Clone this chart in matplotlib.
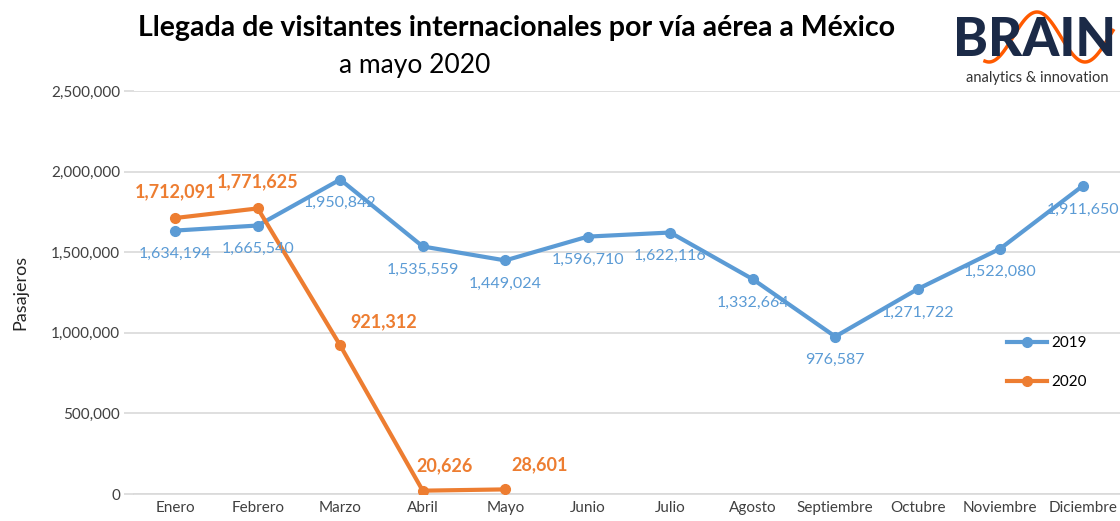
import matplotlib.pyplot as plt
import numpy as np

plt.rcParams['font.family'] = ['Lato', 'DejaVu Sans']

meses = ["Enero", "Febrero", "Marzo", "Abril", "Mayo", "Junio", "Julio",
         "Agosto", "Septiembre", "Octubre", "Noviembre", "Diciembre"]
v2019 = [1634194, 1665540, 1950842, 1535559, 1449024, 1596710, 1622116,
         1332664, 976587, 1271722, 1522080, 1911650]
v2020 = [1712091, 1771625, 921312, 20626, 28601]
yticks = [0, 500000, 1000000, 1500000, 2000000, 2500000]

azul = "#5B9BD5"
naranja = "#ED7D31"

fig = plt.figure(figsize=(11.2, 5.21), dpi=100)
ax = fig.add_axes([134 / 1120, 1 - 494 / 521, 990 / 1120, 403 / 521])

x = np.arange(len(meses))
ax.plot(x, v2019, color=azul, lw=3, marker="o", ms=7, label="2019", zorder=3)
ax.plot(x[:len(v2020)], v2020, color=naranja, lw=3, marker="o", ms=7, label="2020", zorder=4)

# etiquetas 2019 debajo
for i, v in enumerate(v2019):
    ax.annotate(f"{v:,}", (i, v), xytext=(0, -17), textcoords="offset points",
                ha="center", va="center", color=azul, fontsize=11.5, zorder=5)

# etiquetas 2020
offs = [(0, 19), (0, 19), (31, 17), (16, 18), (25, 18)]
for i, v in enumerate(v2020):
    ax.annotate(f"{v:,}", (i, v), xytext=offs[i], textcoords="offset points",
                ha="center", va="center", color=naranja, fontsize=13,
                fontweight="bold", zorder=5)

ax.set_xlim(-0.5, 11.5)
ax.set_ylim(0, 2500000)
ax.set_yticks(yticks)
ax.set_yticklabels([f"{t:,}" for t in yticks])
ax.set_xticks(x)
ax.set_xticklabels(meses)
ax.grid(axis="y", color="#D9D9D9", lw=1.2)
ax.set_axisbelow(True)
for s in ["top", "right", "left"]:
    ax.spines[s].set_visible(False)
ax.spines["bottom"].set_color("#D9D9D9")
ax.spines["bottom"].set_linewidth(1.2)
ax.tick_params(axis="y", length=7, color="#D9D9D9", width=1.2, labelsize=11,
               labelcolor="#404040", pad=3)
ax.tick_params(axis="x", length=0, labelsize=11, labelcolor="#404040", pad=5)
ax.set_ylabel("Pasajeros", fontsize=13, color="#262626", labelpad=16)

ax.legend(loc="upper left", bbox_to_anchor=(0.868, 0.425), frameon=False,
          fontsize=11, labelspacing=1.6, handlelength=2.6, handletextpad=0.3)

fig.text(517 / 1120, 1 - 28 / 521, "Llegada de visitantes internacionales por vía aérea a México",
         ha="center", va="center", fontsize=20.5, fontweight="bold", color="#000000")
fig.text(415 / 1120, 1 - 66 / 521, "a mayo 2020", ha="center", va="center",
         fontsize=19, color="#000000")

# logo
fig.text(1035 / 1120, 1 - 41 / 521, "BRAIN", ha="center", va="center",
         fontsize=38, fontweight="black", color="#1B2A47")
wx = np.linspace(985, 1113, 100)
wy = 37 - 25 * np.cos(2 * np.pi * (wx - 1037) / 96)
fig.add_artist(plt.Line2D(wx / 1120, 1 - wy / 521, color="#FF5A00", lw=2.5))
fig.text(1037 / 1120, 1 - 78 / 521, "analytics & innovation", ha="center", va="center",
         fontsize=10.5, color="#333333")

fig.savefig("out.png", dpi=100)
